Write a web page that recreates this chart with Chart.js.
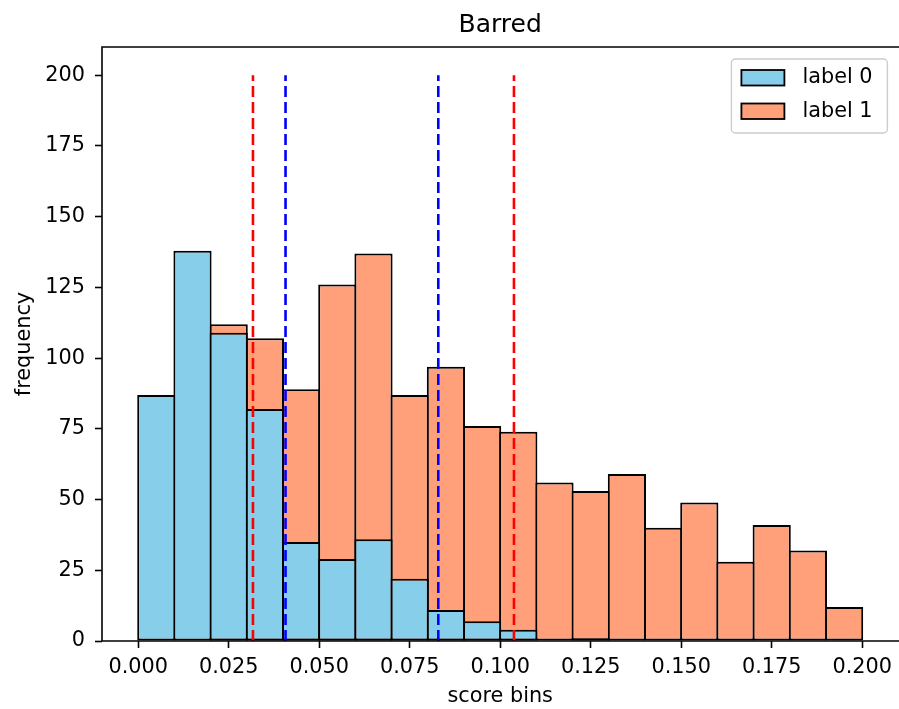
<!DOCTYPE html>
<html>
<head>
<meta charset="utf-8">
<script src="https://cdn.jsdelivr.net/npm/chart.js@4.4.0/dist/chart.umd.min.js"></script>
<style>
  html, body { margin: 0; padding: 0; background: #fff; }
  #wrap { width: 899px; height: 709px; }
</style>
</head>
<body>
<div id="wrap"><canvas id="chart" width="899" height="709"></canvas></div>
<script>
// Histogram data //

const binEdges = [0, 0.01, 0.02, 0.03, 0.04, 0.05, 0.06, 0.07, 0.08, 0.09, 0.1,
                  0.11, 0.12, 0.13, 0.14, 0.15, 0.16, 0.17, 0.18, 0.19, 0.2];
const label0 = [87, 138, 109, 82, 35, 29, 36, 22, 11, 7, 4, 0, 1, 0, 0, 0, 0, 0, 0, 0];
const label1 = [0, 0, 112, 107, 89, 126, 137, 87, 97, 76, 74, 56, 53, 59, 40, 49, 28, 41, 32, 12];
const redLines = [0.0317, 0.1038];
const blueLines = [0.0407, 0.0829];
const lineTop = 200;
const xTicks = [0, 0.025, 0.05, 0.075, 0.1, 0.125, 0.15, 0.175, 0.2];
const yTicks = [0, 25, 50, 75, 100, 125, 150, 175, 200];

const FONT = "'DejaVu Sans', sans-serif";

function toPoints(values) {
    return values.map((v, i) => ({ x: (binEdges[i] + binEdges[i + 1]) / 2, y: v }));
}

function vline(x, color) {
    return {
        type: "line",
        data: [{ x: x, y: 0 }, { x: x, y: lineTop }],
        borderColor: color,
        borderWidth: 2.6,
        borderDash: [11, 5],
        pointRadius: 0,
        fill: false,
        order: -1,
        inLegend: false
    };
}

// Moldura (spines) - matplotlib has no visible right spine here
const framePlugin = {
    id: "frame",
    afterDatasetsDraw(chart) {
        const { ctx, chartArea: a } = chart;
        ctx.save();
        ctx.strokeStyle = "#000";
        ctx.lineWidth = 1.6;
        ctx.beginPath();
        ctx.moveTo(a.left, a.bottom);
        ctx.lineTo(a.left, a.top);
        ctx.lineTo(a.right + 2, a.top);
        ctx.moveTo(a.left, a.bottom);
        ctx.lineTo(a.right + 2, a.bottom);
        ctx.stroke();
        ctx.restore();
    }
};

// Legenda dentro do grafico, canto superior direito
const legendPlugin = {
    id: "insideLegend",
    afterDraw(chart) {
        const { ctx, chartArea: a } = chart;
        const items = chart.data.datasets.filter(d => d.inLegend);
        const w = 156, h = 74;
        const x0 = a.right - 11 - w, y0 = a.top + 12;
        ctx.save();
        ctx.beginPath();
        ctx.roundRect(x0, y0, w, h, 4);
        ctx.fillStyle = "rgba(255,255,255,0.8)";
        ctx.fill();
        ctx.strokeStyle = "#cccccc";
        ctx.lineWidth = 1.4;
        ctx.stroke();
        ctx.font = "20.8px " + FONT;
        ctx.textBaseline = "middle";
        items.forEach((d, i) => {
            const cy = y0 + 19 + i * 33.5;
            ctx.fillStyle = d.backgroundColor;
            ctx.fillRect(x0 + 10, cy - 8, 43, 15.5);
            ctx.strokeStyle = "#000";
            ctx.lineWidth = 1.8;
            ctx.strokeRect(x0 + 10, cy - 8, 43, 15.5);
            ctx.fillStyle = "#000";
            ctx.fillText(d.label, x0 + 71, cy);
        });
        ctx.restore();
    }
};

const ctx = document.getElementById("chart");

new Chart(ctx, {
    type: "bar",
    data: {
        datasets: [
            {
                label: "label 0",
                data: toPoints(label0),
                backgroundColor: "#87CEEB",
                borderColor: "#000",
                borderWidth: 2,
                borderSkipped: false,
                barPercentage: 1.055,
                categoryPercentage: 1,
                grouped: false,
                inLegend: true
            },
            {
                label: "label 1",
                data: toPoints(label1),
                backgroundColor: "#FFA07A",
                borderColor: "#000",
                borderWidth: 2,
                borderSkipped: false,
                barPercentage: 1.055,
                categoryPercentage: 1,
                grouped: false,
                inLegend: true
            },
            ...redLines.map(x => vline(x, "#ff0000")),
            ...blueLines.map(x => vline(x, "#0000ff"))
        ]
    },
    options: {
        responsive: false,
        animation: false,
        devicePixelRatio: 1,
        layout: { padding: { left: 0, right: 0, top: 0, bottom: 0 } },
        plugins: {
            legend: { display: false },
            tooltip: { enabled: false },
            title: {
                display: true,
                text: "Barred",
                fullSize: false,
                color: "#000",
                font: { family: FONT, size: 25, weight: "normal", lineHeight: 1.2 },
                padding: { top: 10, bottom: 7 }
            }
        },
        scales: {
            x: {
                type: "linear",
                min: -0.01,
                max: 0.21,
                offset: false,
                afterBuildTicks: s => { s.ticks = xTicks.map(v => ({ value: v })); },
                afterFit: s => { s.height = 68; },
                ticks: {
                    color: "#000",
                    font: { family: FONT, size: 20.8 },
                    padding: 7,
                    maxRotation: 0,
                    autoSkip: false,
                    callback: v => v.toFixed(3)
                },
                grid: {
                    display: true,
                    offset: false,
                    drawOnChartArea: false,
                    drawTicks: true,
                    tickLength: 7,
                    tickWidth: 1.6,
                    tickColor: "#000"
                },
                border: { display: false },
                title: {
                    display: true,
                    text: "score bins",
                    color: "#000",
                    font: { family: FONT, size: 20.8, lineHeight: 1.1 },
                    padding: { top: 0, bottom: 0.5 }
                }
            },
            y: {
                min: 0,
                max: 210,
                afterBuildTicks: s => { s.ticks = yTicks.map(v => ({ value: v })); },
                afterFit: s => { s.width = 102; },
                ticks: {
                    color: "#000",
                    font: { family: FONT, size: 20.8 },
                    padding: 10,
                    autoSkip: false
                },
                grid: {
                    display: true,
                    drawOnChartArea: false,
                    drawTicks: true,
                    tickLength: 7,
                    tickWidth: 1.6,
                    tickColor: "#000"
                },
                border: { display: false },
                title: {
                    display: true,
                    text: "frequency",
                    color: "#000",
                    font: { family: FONT, size: 20.8, lineHeight: 1.2 },
                    padding: { top: 12, bottom: 0 }
                }
            }
        }
    },
    plugins: [framePlugin, legendPlugin]
});
</script>
</body>
</html>
